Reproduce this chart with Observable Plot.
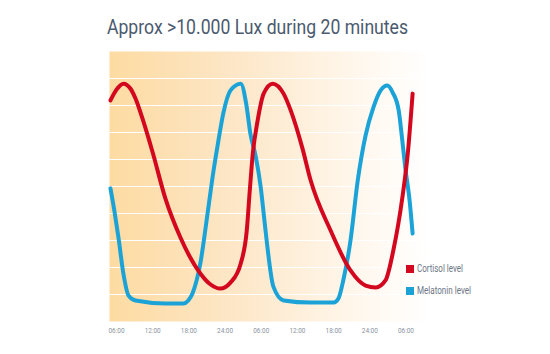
<!DOCTYPE html>
<html>
<head>
<meta charset="utf-8">
<script src="https://cdn.jsdelivr.net/npm/d3@7"></script>
<script src="https://cdn.jsdelivr.net/npm/@observablehq/plot@0.6"></script>
<style>
  body { margin: 0; background: #ffffff; }
  #wrap { position: relative; width: 550px; height: 354px; overflow: hidden; font-family: Roboto, "DejaVu Sans", sans-serif; }
  #title { position: absolute; left: 107px; top: 17px; font-size: 21px; line-height: 1; color: #4b5a6e; white-space: nowrap; transform-origin: 0 0; }
  #chart { position: absolute; left: 0; top: 45px; }
  .leg { position: absolute; left: 406px; height: 8px; display: flex; align-items: center; }
  .sw { width: 8px; height: 8px; flex: none; }
  .lt { margin-left: 3px; font-size: 10px; line-height: 1; color: #6c7686; white-space: nowrap; transform-origin: 0 50%; display: inline-block; }
</style>
</head>
<body>
<div id="wrap">
  <div id="title"></div>
  <div id="chart"></div>
  <div id="legend"></div>
</div>
<script>
const titleText = "Approx >10.000 Lux during 20 minutes";
const seriesNames = ["Cortisol level", "Melatonin level"];
const seriesColors = ["#d3081f", "#1ba3d8"];
const tickHours = [0, 6, 12, 18, 24, 30, 36, 42, 48];
const tickLabels = ["06:00", "12:00", "18:00", "24:00", "06:00", "12:00", "18:00", "24:00", "06:00"];
const gridLevels = [1, 2, 3, 4, 5, 6, 7, 8, 9];

// hours since first 06:00 tick, level on a 0-10 scale
const cortisolHours = [-1.0, 0, 1.16, 2.3, 3.15, 4.3, 6.0, 8.1, 10.6, 13.9, 15.6, 17.2, 18.9, 20.6, 21.6, 22.1, 22.6, 23.4, 24.4, 25.9, 27.7, 28.9, 30.8, 32.2, 35.5, 38.8, 41.3, 43.0, 44.6, 45.9, 47.4, 48.3, 49.1];
const cortisolLevel = [8.19, 8.59, 8.81, 8.63, 8.26, 7.52, 6.26, 4.56, 3.11, 1.78, 1.37, 1.22, 1.44, 2.15, 3.37, 4.85, 6.22, 7.44, 8.44, 8.81, 8.44, 7.81, 6.44, 5.22, 3.37, 1.89, 1.33, 1.26, 1.52, 2.63, 4.59, 6.22, 8.44];

const melatoninHours = [-1.0, -0.33, 0.33, 1.16, 2.0, 3.15, 8.1, 11.1, 11.9, 12.6, 13.9, 15.1, 15.9, 16.9, 17.7, 18.9, 20.6, 21.5, 22.2, 23.1, 23.9, 24.5, 25.0, 26.0, 27.7, 32.2, 36.0, 36.8, 37.6, 38.8, 40.0, 41.3, 42.6, 43.8, 44.9, 45.8, 46.8, 47.3, 47.9, 48.6, 49.1];
const melatoninLevel = [4.93, 4.07, 3.1, 1.75, 0.96, 0.78, 0.67, 0.67, 0.78, 1.04, 2.15, 4.0, 5.30, 6.70, 7.70, 8.56, 8.81, 8.07, 6.96, 6.1, 5.0, 3.8, 2.8, 1.3, 0.78, 0.70, 0.70, 0.85, 1.52, 3.0, 5.22, 6.89, 7.93, 8.56, 8.74, 8.48, 7.81, 6.89, 5.67, 4.48, 3.26];

const cortisol = cortisolHours.map((t, i) => ({t, v: cortisolLevel[i]}));
const melatonin = melatoninHours.map((t, i) => ({t, v: melatoninLevel[i]}));

const gradientDefs = () => {
  const defs = d3.create("svg:defs");
  const g = defs.append("linearGradient").attr("id", "bgGrad").attr("x1", "0").attr("x2", "1").attr("y1", "0").attr("y2", "0");
  [[0, "#fddba2"], [0.4, "#fde7c8"], [0.8, "#fff8ef"], [1, "#ffffff"]].forEach(([o, c]) =>
    g.append("stop").attr("offset", o).attr("stop-color", c));
  return defs.node();
};

const chart = Plot.plot({
  width: 550,
  height: 309,
  marginLeft: 109,
  marginRight: 120.4,
  marginTop: 6,
  marginBottom: 33,
  style: {fontFamily: "Roboto, 'DejaVu Sans', sans-serif", fontSize: "8px", color: "#8a93a0", background: "transparent"},
  x: {domain: [-1.16, 52], ticks: tickHours, tickFormat: d => tickLabels[tickHours.indexOf(d)], tickSize: 0, tickPadding: 6, label: null},
  y: {domain: [0, 10], axis: null},
  marks: [
    gradientDefs,
    Plot.frame({fill: "url(#bgGrad)", stroke: "none"}),
    Plot.ruleY(gridLevels, {stroke: "#ffffff", strokeWidth: 1.2}),
    Plot.line(melatonin, {x: "t", y: "v", stroke: seriesColors[1], strokeWidth: 4, curve: "monotone-x"}),
    Plot.line(cortisol, {x: "t", y: "v", stroke: seriesColors[0], strokeWidth: 4, curve: "monotone-x"})
  ]
});
document.getElementById("chart").appendChild(chart);

// condense tick labels to match the narrow typeface
chart.querySelectorAll("g[aria-label='x-axis tick label'] text, g[aria-label='x-axis'] text").forEach(t => {
  t.setAttribute("textLength", "16");
  t.setAttribute("lengthAdjust", "spacingAndGlyphs");
});

const title = document.getElementById("title");
title.textContent = titleText;
const tw = title.getBoundingClientRect().width;
title.style.transform = `scaleX(${301 / tw})`;

const legend = document.getElementById("legend");
const legTops = [265, 287];
const legWidths = [46, 54];
seriesNames.forEach((name, i) => {
  const row = document.createElement("div");
  row.className = "leg";
  row.style.top = legTops[i] + "px";
  const sw = document.createElement("div");
  sw.className = "sw";
  sw.style.background = seriesColors[i];
  const lt = document.createElement("span");
  lt.className = "lt";
  lt.textContent = name;
  row.appendChild(sw);
  row.appendChild(lt);
  legend.appendChild(row);
  const w = lt.getBoundingClientRect().width;
  lt.style.transform = `scaleX(${legWidths[i] / w})`;
});
</script>
</body>
</html>
